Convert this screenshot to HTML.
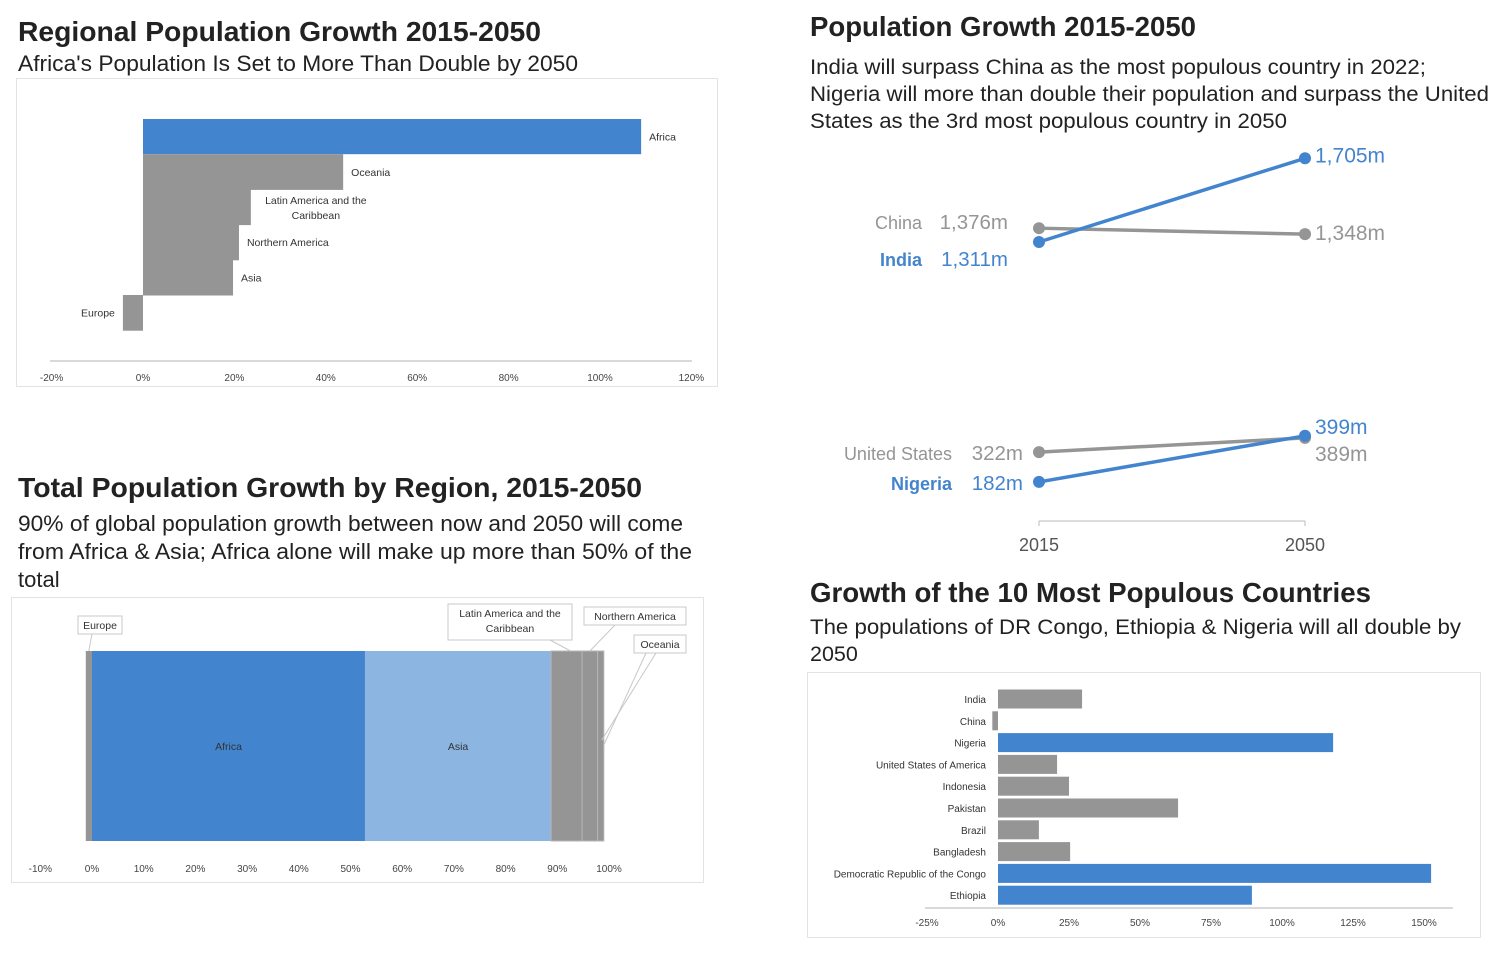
<!DOCTYPE html>
<html><head><meta charset="utf-8"><style>
body{margin:0;background:#fff;width:1500px;height:957px;overflow:hidden;font-family:"Liberation Sans",sans-serif}
svg text{font-family:"Liberation Sans",sans-serif}
</style></head><body>
<svg id="s" width="1500" height="957" xmlns="http://www.w3.org/2000/svg">
<g fill="#222" lengthAdjust="spacingAndGlyphs">
<text x="18" y="41" font-size="28" font-weight="bold" textLength="523" lengthAdjust="spacingAndGlyphs">Regional Population Growth 2015-2050</text>
<text x="18" y="71" font-size="22" textLength="560" lengthAdjust="spacingAndGlyphs">Africa's Population Is Set to More Than Double by 2050</text>
<text x="18" y="497" font-size="28" font-weight="bold" textLength="624" lengthAdjust="spacingAndGlyphs">Total Population Growth by Region, 2015-2050</text>
<text x="18" y="531" font-size="22" textLength="665" lengthAdjust="spacingAndGlyphs">90% of global population growth between now and 2050 will come</text>
<text x="18" y="559" font-size="22" textLength="674" lengthAdjust="spacingAndGlyphs">from Africa &amp; Asia; Africa alone will make up more than 50% of the</text>
<text x="18" y="587" font-size="22">total</text>
<text x="810" y="36" font-size="27.5" font-weight="bold" textLength="386" lengthAdjust="spacingAndGlyphs">Population Growth 2015-2050</text>
<text x="810" y="74" font-size="21.5" textLength="616" lengthAdjust="spacingAndGlyphs">India will surpass China as the most populous country in 2022;</text>
<text x="810" y="101" font-size="21.5" textLength="679" lengthAdjust="spacingAndGlyphs">Nigeria will more than double their population and surpass the United</text>
<text x="810" y="128" font-size="21.5" textLength="477" lengthAdjust="spacingAndGlyphs">States as the 3rd most populous country in 2050</text>
<text x="810" y="602" font-size="27.5" font-weight="bold" textLength="561" lengthAdjust="spacingAndGlyphs">Growth of the 10 Most Populous Countries</text>
<text x="810" y="634" font-size="21.5" textLength="651" lengthAdjust="spacingAndGlyphs">The populations of DR Congo, Ethiopia &amp; Nigeria will all double by</text>
<text x="810" y="661" font-size="21.5">2050</text>
</g>
<rect x="16.5" y="78.5" width="701" height="308" fill="none" stroke="#e3e3e3"/>
<rect x="11.5" y="597.5" width="692" height="285" fill="none" stroke="#e3e3e3"/>
<rect x="807.5" y="672.5" width="673" height="265" fill="none" stroke="#e3e3e3"/>
<g id="c1"></g>
<g id="c2"></g>
<g id="c3"></g>
<g id="c4"></g>
</svg>
<script>
const NS="http://www.w3.org/2000/svg";
// Chart 1 data
const c1Regions=["Africa","Oceania","Latin America and the Caribbean","Northern America","Asia","Europe"];
const c1Values=[109,43.8,23.6,21,19.7,-4.4];
const c1Ticks=[-20,0,20,40,60,80,100,120];
// Chart 2 data
const c2Regions=["Europe","Africa","Asia","Latin America and the Caribbean","Northern America","Oceania"];
const c2Values=[-1.2,52.8,36,6,3,1.2];
const c2Ticks=[-10,0,10,20,30,40,50,60,70,80,90,100];
// Chart 3 data
const c3Countries=["China","India","United States","Nigeria"];
const c3Pop2015=[1376,1311,322,182];
const c3Pop2050=[1348,1705,389,399];
const c3Years=["2015","2050"];
// Chart 4 data
const c4Countries=["India","China","Nigeria","United States of America","Indonesia","Pakistan","Brazil","Bangladesh","Democratic Republic of the Congo","Ethiopia"];
const c4Values=[29.6,-2,118,20.8,25,63.4,14.4,25.4,152.5,89.4];
const c4Ticks=[-25,0,25,50,75,100,125,150];
const c4Highlight=["Nigeria","Democratic Republic of the Congo","Ethiopia"];

function el(parent,tag,attrs,text){const e=document.createElementNS(NS,tag);for(const k in attrs)e.setAttribute(k,attrs[k]);if(text!==undefined)e.textContent=text;parent.appendChild(e);return e;}
const BLUE="#4384cf",GRAY="#959595",LBLUE="#8cb5e2";

// Chart 1
(function(){
const g=document.getElementById('c1');
const x=v=>143+v*4.57;
const y0=119,bh=35.2;
el(g,'line',{x1:50,x2:692,y1:361,y2:361,stroke:'#d9d9d9','stroke-width':2});
c1Ticks.forEach(t=>{const e=el(g,'text',{x:x(t),y:381,'font-size':10,'text-anchor':'middle',fill:'#444'},t+'%');

});
c1Values.forEach((v,i)=>{
const yy=y0+i*bh;
const r=el(g,'rect',{x:Math.min(x(0),x(v)),y:yy,width:Math.abs(x(v)-x(0)),height:(i==0?bh:bh+0.5),fill:i==0?BLUE:GRAY});


const name=c1Regions[i];
let lines=name.startsWith('Latin')?['Latin America and the','Caribbean']:[name];
const anchor=v<0?'end':'start';const lx=v<0?x(v)-8:x(v)+8;
const cy=yy+bh/2+4-(lines.length-1)*7;
lines.forEach((ln,j)=>{const t=el(g,'text',{x:lines.length>1?lx+57:lx,y:cy+j*15,'font-size':10.5,'text-anchor':lines.length>1?'middle':anchor,fill:'#333'},ln);

});
});
})();

// Chart 2
(function(){
const g=document.getElementById('c2');
const x=v=>92+v*5.17;
c2Ticks.forEach(t=>{const e=el(g,'text',{x:x(t),y:872,'font-size':10,'text-anchor':'middle',fill:'#444'},t+'%');

});
let cum=0;const cols=[GRAY,BLUE,LBLUE,GRAY,GRAY,GRAY];const segs=[];
c2Values.forEach((v,i)=>{
let a,b;if(v<0){a=x(v);b=x(0);}else{a=x(cum);b=x(cum+v);cum+=v;}
segs.push([a,b]);
const r=el(g,'rect',{x:a,y:651,width:b-a,height:190,fill:cols[i],stroke:i>2?'#b5b5b5':'none','stroke-width':1});


});
[[1,'Africa'],[2,'Asia']].forEach(([i,n])=>{const t=el(g,'text',{x:(segs[i][0]+segs[i][1])/2,y:750,'font-size':10.5,'text-anchor':'middle',fill:'#333'},n);

});
const callouts=[[0,78,616,44,18,['Europe'],segs[0][0]+3,651],[3,448,604,124,36,['Latin America and the','Caribbean'],(segs[3][0]+segs[3][1])/2+4,651],[4,584,607,102,18,['Northern America'],(segs[4][0]+segs[4][1])/2,651],[5,634,635,52,18,['Oceania'],segs[5][1],745]];
callouts.forEach(c=>{const [i,bx,by,bw,bhh,lines,px,py]=c;
const ln=el(g,'line',{x1:bx+bw/2+(i==0?-8:i==5?-14:i==3?40:-20),y1:by+bhh,x2:px,y2:py,stroke:'#c8c8c8'});


if(i==5){const l2=el(g,'line',{x1:bx+22,y1:by+bhh,x2:px-2,y2:py-5,stroke:'#c8c8c8'});

}
const r=el(g,'rect',{x:bx,y:by,width:bw,height:bhh,fill:'#fff',stroke:'#c8c8c8'});


lines.forEach((t,j)=>{const tt=el(g,'text',{x:bx+bw/2,y:by+13+j*15,'font-size':10.5,'text-anchor':'middle',fill:'#333'},t);

});
});
})();

// Chart 3 slope
(function(){
const g=document.getElementById('c3');
const x=[1039,1305];
const y=v=>242-(v-1311)*0.2125;
el(g,'line',{x1:1039,x2:1305,y1:521,y2:521,stroke:'#bbb'});
x.forEach((xx,i)=>{el(g,'line',{x1:xx,x2:xx,y1:521,y2:526,stroke:'#bbb'});
const t=el(g,'text',{x:xx,y:551,'font-size':18,'text-anchor':'middle',fill:'#555'},c3Years[i]);

});
const fmt=v=>v.toLocaleString('en-US')+'m';
[0,2,1,3].forEach(i=>{
const blue=(i==1||i==3),col=blue?BLUE:GRAY;
const ln=el(g,'line',{x1:x[0],y1:y(c3Pop2015[i]),x2:x[1],y2:y(c3Pop2050[i]),stroke:col,'stroke-width':3.5});


[[x[0],c3Pop2015[i]],[x[1],c3Pop2050[i]]].forEach(p=>{const c=el(g,'circle',{cx:p[0],cy:y(p[1]),r:6,fill:col});

});
const vy=i==0?y(c3Pop2015[i])+1:i==1?y(c3Pop2015[i])+24:y(c3Pop2015[i])+8;
const vt=el(g,'text',{x:i<2?1008:1023,y:vy,'font-size':20.5,'text-anchor':'end',fill:col},fmt(c3Pop2015[i]));


const nx=i<2?922:952;
const nt=el(g,'text',{x:nx,y:vy,'font-size':18,'text-anchor':'end',fill:col,'font-weight':blue?'bold':'normal'},c3Countries[i]);


const ey=i==1?y(c3Pop2050[i])+4:i==0?y(c3Pop2050[i])+6:i==3?y(c3Pop2050[i])-2:y(c3Pop2050[i])+23;
const et=el(g,'text',{x:1315,y:ey,'font-size':21,fill:col},fmt(c3Pop2050[i]));


});
})();

// Chart 4
(function(){
const g=document.getElementById('c4');
const x=v=>998+v*2.84;
el(g,'line',{x1:925,x2:1453,y1:908,y2:908,stroke:'#d9d9d9','stroke-width':2});
c4Ticks.forEach(t=>{const e=el(g,'text',{x:x(t),y:926,'font-size':10,'text-anchor':'middle',fill:'#444'},t+'%');

});
c4Values.forEach((v,i)=>{
const cy=699+i*21.8;
const hl=c4Highlight.includes(c4Countries[i]);
const r=el(g,'rect',{x:Math.min(x(0),x(v)),y:cy-9.5,width:Math.abs(x(v)-x(0)),height:19,fill:hl?BLUE:GRAY});


const t=el(g,'text',{x:986,y:cy+4,'font-size':10,'text-anchor':'end',fill:'#333'},c4Countries[i]);


});
})();
</script>
</body></html>
